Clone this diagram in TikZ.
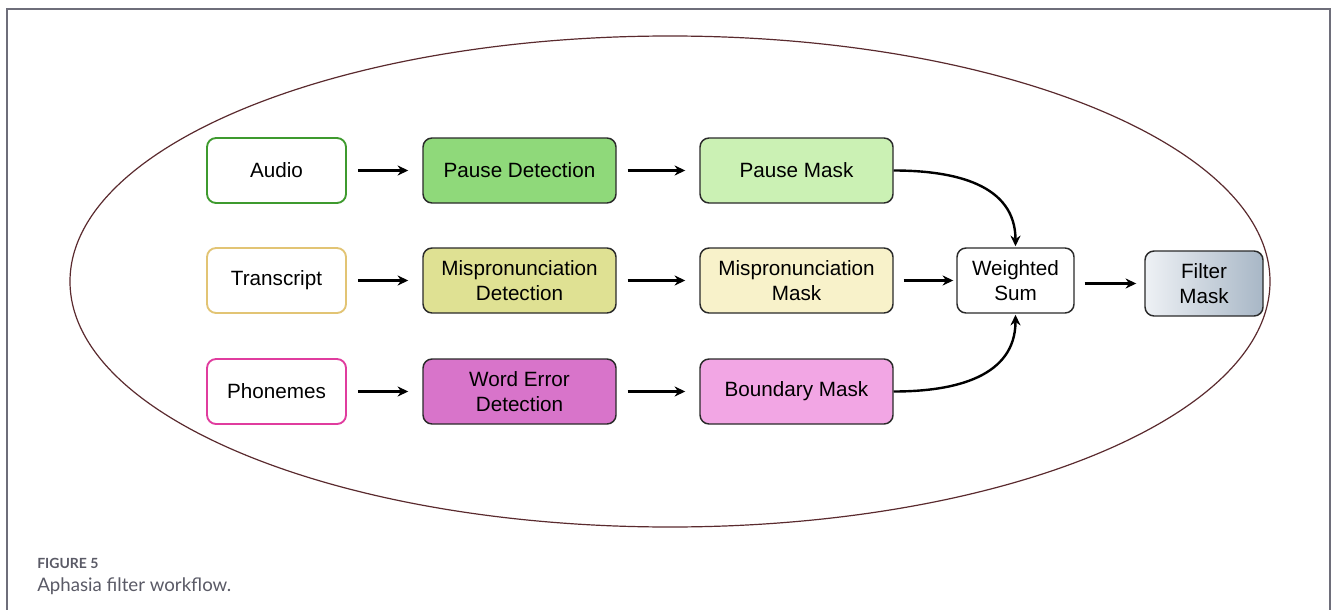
\documentclass[tikz,border=0pt]{standalone}
\usepackage{fontspec}
\setmainfont{Liberation Sans}
\newfontfamily\capfont{Lato}
\usetikzlibrary{arrows.meta}
\definecolor{frameC}{HTML}{6E6E7A}
\definecolor{ellC}{HTML}{5A2A2E}
\definecolor{audioC}{HTML}{3E9A2E}
\definecolor{transC}{HTML}{E2C474}
\definecolor{phonC}{HTML}{E03C9E}
\definecolor{pdetC}{HTML}{8FD97A}
\definecolor{pmaskC}{HTML}{CBF1B4}
\definecolor{mdetC}{HTML}{DFE193}
\definecolor{mmaskC}{HTML}{F8F2CA}
\definecolor{wdetC}{HTML}{D874CA}
\definecolor{bmaskC}{HTML}{F2A6E4}
\definecolor{boxline}{HTML}{2A2A2A}
\definecolor{capC}{HTML}{5A5A66}
\definecolor{fmL}{HTML}{EEF1F5}
\definecolor{fmR}{HTML}{A8B7C6}
\tikzset{
  base/.style={rounded corners=6.75pt, line width=1.4pt, align=center,
    minimum height=48.75pt, inner sep=0pt,
    font=\fontsize{15.5}{18.5}\selectfont},
  inbox/.style={base, minimum width=104.25pt, fill=white},
  stagebox/.style={base, minimum width=144.75pt, draw=boxline, line width=1.1pt},
  sumbox/.style={base, minimum width=87.75pt, draw=boxline, fill=white, line width=1.1pt},
  link/.style={-{Stealth[length=8pt,width=7.5pt]}, line width=1.8pt},
}
\begin{document}
\begin{tikzpicture}[x=0.75pt,y=-0.75pt]
\useasboundingbox (0,0) rectangle (1332,610);
% page frame
\draw[frameC, line width=1.5pt] (7,612) -- (7,9) -- (1330,9) -- (1330,612);
% enclosing ellipse
\draw[ellC, line width=0.9pt] (670,281.5) ellipse [x radius=600, y radius=245.5];

% inputs
\node[inbox, draw=audioC] (audio) at (276.5,170.5) {Audio};
\node[inbox, draw=transC] (trans) at (276.5,280.5) {Transcript};
\node[inbox, draw=phonC] (phon) at (276.5,391.5) {Phonemes};

% detectors
\node[stagebox, fill=pdetC] (pdet) at (519.5,170.5) {Pause Detection};
\node[stagebox, fill=mdetC] (mdet) at (519.5,280.5) {Mispronunciation\\Detection};
\node[stagebox, fill=wdetC] (wdet) at (519.5,391.5) {Word Error\\Detection};

% masks
\node[stagebox, fill=pmaskC] (pmask) at (796.5,170.5) {Pause Mask};
\node[stagebox, fill=mmaskC] (mmask) at (796.5,280.5) {Mispronunciation\\Mask};
\node[stagebox, fill=bmaskC] (bmask) at (796.5,391.5) {Boundary Mask};

% combination
\node[sumbox] (wsum) at (1015.5,280.5) {Weighted\\Sum};
\node[base, minimum width=88.5pt, draw=boxline, line width=1.1pt, left color=fmL, right color=fmR] (fmask) at (1204,283.5) {Filter\\Mask};

% connectors
\foreach \a/\b in {audio/pdet, pdet/pmask, trans/mdet, mdet/mmask, phon/wdet, wdet/bmask}
  \draw[link] ([xshift=8.25pt]\a.east) -- ([xshift=-10.5pt]\b.west);
\draw[link] ([xshift=7.5pt]mmask.east) -- ([xshift=-2.25pt]wsum.west);
\draw[link] ([xshift=7.5pt]wsum.east |- fmask.west) -- ([xshift=-6pt]fmask.west);
\draw[link] (pmask.east) to[out=0, in=90, looseness=1.1] ([yshift=0.75pt]wsum.north);
\draw[link] (bmask.east) to[out=0, in=-90, looseness=1.1] ([yshift=-0.75pt]wsum.south);

% caption
\node[anchor=base west, inner sep=0pt, text=capC, font=\capfont\bfseries\fontsize{10.5}{12}\selectfont] (capnum) at (37,568) {FIGURE 5};
\node[anchor=base west, inner sep=0pt, text=capC, font=\capfont\fontsize{14}{16}\selectfont] (captext) at (37,591) {Aphasia filter workflow.};
\end{tikzpicture}
\end{document}
